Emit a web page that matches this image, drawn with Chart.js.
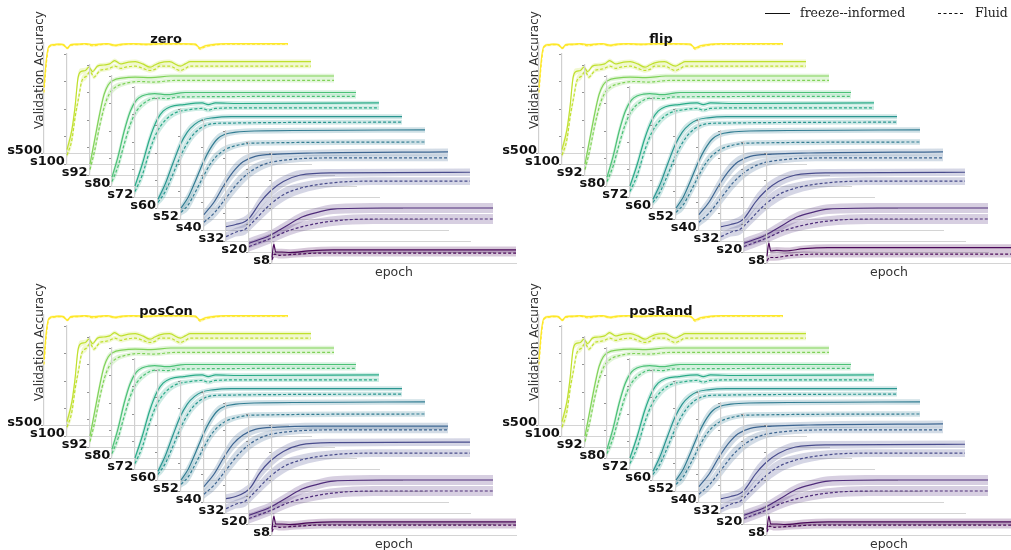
<!DOCTYPE html>
<html><head><meta charset="utf-8">
<script src="https://cdn.jsdelivr.net/npm/chart.js@4/dist/chart.umd.min.js"></script>
<style>
html,body{margin:0;padding:0;background:#fff}
body{width:1011px;height:550px;overflow:hidden;position:relative;font-family:"DejaVu Sans",sans-serif}
canvas{position:absolute}
.t{position:absolute;white-space:nowrap;line-height:13px}
.lab{font-weight:bold;font-size:13px;color:#111;transform:translateX(-100%)}
.ttl{font-weight:bold;font-size:13px;color:#111;transform:translateX(-50%)}
.ylab{font-size:12px;color:#333;transform:translate(-50%,-50%) rotate(-90deg)}
.xlab{font-size:12.5px;color:#333;transform:translate(-50%,-50%)}
.leg{font-family:"DejaVu Serif",serif;font-size:12.5px;color:#222}
.ln{position:absolute;height:0;width:25px}
</style></head><body>
<script>
// ---------- data ----------
const panelNames = ['zero', 'flip', 'posCon', 'posRand'];
const sizeLabels = ['s500','s100','s92','s80','s72','s60','s52','s40','s32','s20','s8'];
const seriesNames = ['freeze--informed', 'Fluid'];
const epochMax = 200;
const yTicksStep = 0.25;

// [epoch, validation accuracy, (optional) std of band] -- freeze-informed (F) and Fluid (D)
const s500F = [[0,0.6,0.04],[2,0.86,0.03],[4,0.97],[8,0.985],[12,0.99],[16,0.985],[19,0.955],[22,0.985],[28,0.99],[34,0.995],[40,0.985],[46,0.99],[52,0.995],[58,0.98],[64,0.99],[72,0.995],[84,0.99],[96,0.995],[110,0.995],[124,0.99],[128,0.955],[132,0.975],[138,0.985],[150,0.995],[200,0.995]];
const s500D = [[0,0.55,0.04],[2,0.82,0.03],[4,0.96],[8,0.98],[12,0.985],[16,0.98],[19,0.95],[22,0.98],[28,0.985],[34,0.99],[40,0.975],[46,0.985],[52,0.99],[58,0.975],[64,0.985],[72,0.99],[84,0.985],[96,0.99],[110,0.99],[124,0.985],[128,0.945],[132,0.965],[138,0.98],[150,0.99],[200,0.99]];
const s100F = [[0,0.13,0.03],[4,0.31,0.05],[6.6,0.52,0.05],[9,0.78,0.04],[11.5,0.84,0.03],[15,0.85,0.025],[18,0.88],[21,0.84],[25,0.89],[30,0.9],[35,0.91],[39,0.94],[44,0.91],[48,0.92],[56,0.93],[62,0.91],[68,0.88],[72,0.9],[76,0.92],[84,0.93],[93,0.89],[97,0.91],[101,0.93],[120,0.93],[200,0.93]];
const s100D = [[0,0.08,0.03],[4,0.22,0.05],[7,0.45,0.05],[10,0.63,0.05],[12,0.75,0.04],[16,0.8,0.03],[19,0.84],[22,0.79],[27,0.85],[31,0.86],[35,0.87],[39,0.89],[44,0.87],[48,0.88],[56,0.89],[62,0.87],[68,0.85],[72,0.86],[76,0.89],[84,0.89],[93,0.85],[97,0.87],[101,0.89],[120,0.89],[200,0.89]];
const s92F = [[0,0.1,0.03],[4,0.33,0.05],[8,0.56,0.05],[11.5,0.73,0.04],[15,0.82,0.03],[19,0.86],[26,0.88],[37,0.89],[50,0.885],[66,0.9],[200,0.9]];
const s92D = [[0,0.05,0.03],[4,0.23,0.05],[8,0.45,0.05],[12,0.63,0.05],[16,0.74,0.04],[21,0.8,0.03],[28,0.83],[40,0.85],[52,0.845],[70,0.86],[200,0.86]];
const s80F = [[0,0.08,0.03],[5,0.27,0.05],[10,0.5,0.05],[15,0.68,0.04],[20,0.78,0.03],[25,0.82],[30,0.835],[35,0.84],[45,0.83],[55,0.845],[60,0.85],[200,0.85]];
const s80D = [[0,0.04,0.03],[5,0.18,0.05],[10,0.38,0.05],[15,0.56,0.05],[20,0.68,0.04],[27,0.76,0.03],[36,0.8],[45,0.795],[55,0.81],[200,0.815]];
const s72F = [[0,0.1,0.03],[6,0.3,0.05],[12,0.53,0.05],[18,0.7,0.04],[23,0.78,0.03],[29,0.82],[40,0.84],[55,0.855],[60,0.84],[66,0.855],[85,0.85],[200,0.855]];
const s72D = [[0,0.05,0.03],[6,0.2,0.05],[12,0.42,0.05],[18,0.59,0.05],[25,0.7,0.04],[32,0.76,0.03],[45,0.795],[55,0.805],[60,0.79],[66,0.805],[85,0.81],[200,0.81]];
const s60F = [[0,0.08,0.03],[6,0.22,0.05],[12,0.4,0.05],[18,0.57,0.05],[24,0.69,0.04],[30,0.76,0.03],[36,0.8],[45,0.82],[60,0.83],[200,0.83]];
const s60D = [[0,0.05,0.03],[6,0.15,0.05],[12,0.3,0.05],[18,0.46,0.05],[24,0.59,0.05],[30,0.68,0.04],[37,0.74,0.03],[48,0.77],[200,0.78]];
const s52F = [[0,0.1,0.03],[6,0.2,0.05],[12,0.35,0.05],[18,0.51,0.05],[24,0.64,0.05],[30,0.73,0.04],[36,0.77,0.03],[45,0.79],[60,0.8],[200,0.81]];
const s52D = [[0,0.06,0.03],[6,0.13,0.05],[12,0.25,0.05],[18,0.38,0.05],[24,0.5,0.05],[30,0.58,0.04],[36,0.63,0.035],[46,0.67],[60,0.69],[200,0.7]];
const s40F = [[0,0.14,0.04],[8,0.25,0.05],[16,0.4,0.06],[24,0.53,0.06],[32,0.62,0.05],[42,0.67,0.04],[60,0.69],[90,0.7],[200,0.71]];
const s40D = [[0,0.07,0.04],[8,0.15,0.05],[18,0.29,0.06],[28,0.43,0.06],[38,0.53,0.05],[50,0.6,0.04],[70,0.64],[104,0.655],[200,0.655]];
const s32F = [[0,0.13,0.04],[8,0.15,0.04],[16,0.18,0.05],[20,0.22,0.05],[28,0.35,0.06],[36,0.45,0.06],[47,0.54,0.05],[61,0.6,0.045],[88,0.62],[200,0.625]];
const s32D = [[0,0.04,0.04],[8,0.08,0.04],[16,0.11,0.05],[20,0.15,0.05],[36,0.33,0.06],[47,0.42,0.06],[61,0.48,0.05],[88,0.53,0.04],[129,0.545],[200,0.545]];
const s20F = [[0,0.08],[17,0.15],[25,0.2],[34,0.26],[44,0.32],[56,0.36],[69,0.39],[110,0.4],[200,0.4]];
const s20D = [[0,0.05],[17,0.12],[34,0.2],[56,0.26],[77,0.29],[110,0.3],[200,0.3]];
const s8F = [[0,0.05],[1.5,0.17],[3,0.1],[8,0.1],[15,0.095],[30,0.11],[50,0.12],[200,0.12]];
const s8D = [[0,0.03],[2,0.08],[6,0.07],[20,0.08],[40,0.09],[200,0.09]];
// panel-specific curves that differ from the shared ones
const s8F_flip = [[0,0.06],[1.5,0.18],[3,0.11],[8,0.115],[15,0.11],[30,0.13],[50,0.14],[200,0.14]];
const s8D_flip = [[0,0.02],[2,0.05],[6,0.05],[20,0.07],[40,0.08],[200,0.08]];
const s32F_posCon = [[0,0.13,0.04],[8,0.15,0.04],[16,0.19,0.05],[20,0.23,0.05],[28,0.37,0.06],[36,0.47,0.06],[47,0.56,0.05],[61,0.62,0.045],[88,0.64],[200,0.645]];
const s40F_posCon = [[0,0.14,0.04],[8,0.25,0.05],[16,0.4,0.06],[24,0.53,0.06],[32,0.61,0.05],[42,0.66,0.04],[60,0.68],[90,0.69],[200,0.69]];

// band half-widths (std) of the plateau per size, order as sizeLabels
const bandSD = [0.012,0.02,0.02,0.02,0.02,0.022,0.025,0.03,0.035,0.045,0.03];

const freezeCurves = [s500F,s100F,s92F,s80F,s72F,s60F,s52F,s40F,s32F,s20F,s8F];
const fluidCurves  = [s500D,s100D,s92D,s80D,s72D,s60D,s52D,s40D,s32D,s20D,s8D];
const overrides = {flip:{10:[s8F_flip, s8D_flip]}, posCon:{8:[s32F_posCon, null], 7:[s40F_posCon, null]}};

// ---------- style / layout ----------
const colors = ['#fde725','#bddf26','#7ad151','#44bf70','#22a884','#21918c','#2a788e','#355f8d','#414487','#482475','#440154'];
const panelPos = [[0,0],[495,0],[0,272],[495,272]];
const AX0 = 44, BASE0 = 153, DX = 22.8, DY = 11, W = 244, H = 110, PAD = 8;

function rgba(hex, a){const n=parseInt(hex.slice(1),16);return `rgba(${n>>16&255},${n>>8&255},${n&255},${a})`;}
function pts(arr){return arr.map(p=>({x:p[0],y:p[1]}));}
function band(arr,sd,s){return arr.map(p=>({x:p[0],y:p[1]+s*(p.length>2?p[2]:sd)}));}
function addText(cls, txt, x, y){const d=document.createElement('div');d.className='t '+cls;d.textContent=txt;d.style.left=x+'px';d.style.top=y+'px';document.body.appendChild(d);return d;}

panelNames.forEach((pname, p) => {
  const [px, py] = panelPos[p];
  sizeLabels.forEach((lab, i) => {
    const left = px + AX0 + DX*i, base = py + BASE0 + DY*i;
    const cv = document.createElement('canvas');
    cv.width = W + 2*PAD; cv.height = H + 2*PAD;
    cv.style.left = (left - PAD) + 'px'; cv.style.top = (base - H - PAD) + 'px';
    document.body.appendChild(cv);
    const c = colors[i], sd = bandSD[i];
    const ov = (overrides[pname] || {})[i] || [null, null];
    const F = ov[0] || freezeCurves[i], D = ov[1] || fluidCurves[i];
    const common = {pointRadius:0, cubicInterpolationMode:'monotone', clip:false};
    new Chart(cv, {
      type:'line',
      data:{datasets:[
        {...common, data:band(F,sd,-1), borderWidth:0, fill:false},
        {...common, data:band(F,sd,1), borderWidth:0, fill:'-1', backgroundColor:rgba(c,0.22)},
        {...common, data:band(D,sd,-1), borderWidth:0, fill:false},
        {...common, data:band(D,sd,1), borderWidth:0, fill:'-1', backgroundColor:rgba(c,0.22)},
        {...common, label:seriesNames[0], data:pts(F), borderColor:rgba(c,0.95), borderWidth:1.2, fill:false},
        {...common, label:seriesNames[1], data:pts(D), borderColor:rgba(c,0.95), borderWidth:1.2, borderDash:[3,2], fill:false}
      ]},
      options:{
        responsive:false, animation:false, devicePixelRatio:1,
        layout:{padding:{left:PAD-4, right:PAD, top:PAD, bottom:PAD}},
        plugins:{legend:{display:false}, tooltip:{enabled:false}},
        events:[],
        scales:{
          x:{type:'linear', min:0, max:epochMax, afterFit(s){s.height=0;},
             ticks:{display:false}, grid:{display:false},
             border:{display:true, color:'#d4d4d4', width:1, dash:[4,3]}},
          y:{min:0, max:1, afterFit(s){s.width=4;},
             ticks:{display:false, stepSize:yTicksStep},
             grid:{display:true, drawOnChartArea:false, drawTicks:true, tickLength:3, color:'#777', lineWidth:0.8},
             border:{display:true, color:'#d0d0d0', width:1.2}}
        }
      }
    });
    addText('lab', lab, left - 2, base - 10);
  });
  addText('ttl', pname, px + AX0 + W/2, py + 32);
  addText('ylab', 'Validation Accuracy', px + 39, py + 70);
  addText('xlab', 'epoch', px + 394, py + 271);
});

// legend
const l1 = document.createElement('div'); l1.className='ln'; l1.style.cssText += 'left:765px;top:13px;border-top:1.3px solid #111;'; document.body.appendChild(l1);
addText('leg', seriesNames[0], 800, 6);
const l2 = document.createElement('div'); l2.className='ln'; l2.style.cssText += 'left:938px;top:13px;border-top:1.3px dashed #111;'; document.body.appendChild(l2);
addText('leg', seriesNames[1], 975, 6);
</script>
</body></html>
